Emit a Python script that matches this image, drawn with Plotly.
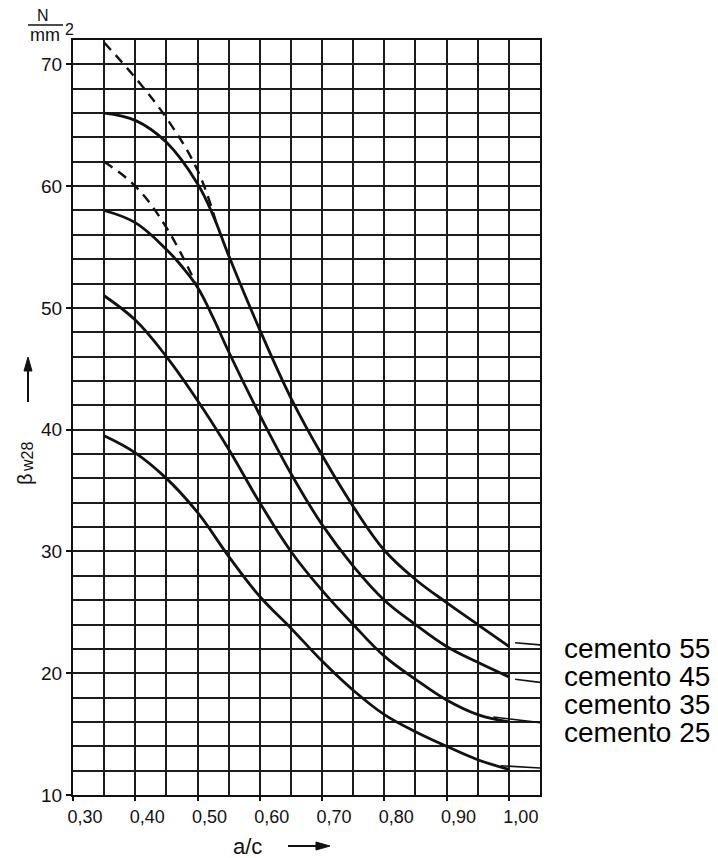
import plotly.graph_objects as go

# ---------------- data ----------------
wc = [0.35, 0.40, 0.45, 0.50, 0.55, 0.60, 0.65, 0.70, 0.75, 0.80, 0.85, 0.90, 0.95, 1.00]
wc55 = [0.35, 0.40, 0.45, 0.50, 0.525, 0.55, 0.60, 0.65, 0.70, 0.75, 0.80, 0.85, 0.90, 0.95, 1.00]
c55 = [66.0, 65.4, 63.6, 60.2, 57.6, 54.3, 48.2, 42.6, 37.9, 33.7, 30.1, 27.7, 25.8, 24.0, 22.2]
wc45 = [0.35, 0.40, 0.45, 0.475, 0.50, 0.525, 0.55, 0.60, 0.65, 0.70, 0.75, 0.80, 0.85, 0.90, 0.95, 1.00]
c45 = [58.0, 57.0, 54.8, 53.4, 51.7, 49.2, 46.4, 41.2, 36.4, 32.2, 28.8, 26.0, 24.0, 22.2, 20.9, 19.7]
c35 = [51.0, 49.0, 46.0, 42.4, 38.4, 34.0, 30.0, 26.8, 24.0, 21.4, 19.5, 17.8, 16.6, 16.0]
c25 = [39.5, 38.1, 36.0, 33.2, 29.6, 26.3, 23.7, 21.0, 18.6, 16.6, 15.2, 14.0, 12.9, 12.1]

# dashed extrapolations
wc55_dash = [0.35, 0.40, 0.45, 0.50, 0.53]
c55_dash = [71.8, 68.9, 65.6, 61.3, 57.0]
wc45_dash = [0.35, 0.40, 0.45, 0.50]
c45_dash = [62.0, 60.0, 56.6, 51.7]

# leader lines towards the labels
lead55_x = [1.01, 1.057]
lead55_y = [22.5, 22.3]
lead45_x = [1.01, 1.057]
lead45_y = [19.5, 19.2]
lead35_x = [0.975, 1.057]
lead35_y = [16.4, 15.9]
lead25_x = [0.987, 1.057]
lead25_y = [12.4, 12.2]

series_labels = ["cemento 55", "cemento 45", "cemento 35", "cemento 25"]

x_ticks = [0.30, 0.40, 0.50, 0.60, 0.70, 0.80, 0.90, 1.00]
x_ticktext = ["0,30", "0,40", "0,50", "0,60", "0,70", "0,80", "0,90", "1,00"]
y_ticks = [10, 20, 30, 40, 50, 60, 70]
y_ticktext = ["10", "20", "30", "40", "50", "60", "70"]

# ---------------- layout geometry ----------------
W, H = 718, 858
ML, MR, MT, MB = 73, 178, 40, 63
PW, PH = W - ML - MR, H - MT - MB


def px(xp):
    return (xp - ML) / PW


def py(yp):
    return (H - MB - yp) / PH


INK = "#111111"
GRID = "#1c1c1c"
FONT = "Liberation Sans"

fig = go.Figure()

line_solid = dict(color=INK, width=2.8, shape="spline", smoothing=1.1)
line_dash = dict(color=INK, width=2.4, shape="spline", smoothing=1.1, dash="10px,7px")

fig.add_trace(go.Scatter(x=wc55_dash, y=c55_dash, mode="lines", line=line_dash))
fig.add_trace(go.Scatter(x=wc45_dash, y=c45_dash, mode="lines", line=line_dash))
fig.add_trace(go.Scatter(x=wc55, y=c55, mode="lines", line=line_solid))
fig.add_trace(go.Scatter(x=wc45, y=c45, mode="lines", line=line_solid))
fig.add_trace(go.Scatter(x=wc, y=c35, mode="lines", line=line_solid))
fig.add_trace(go.Scatter(x=wc, y=c25, mode="lines", line=line_solid))

for lx, ly in [(lead55_x, lead55_y), (lead45_x, lead45_y), (lead35_x, lead35_y), (lead25_x, lead25_y)]:
    fig.add_trace(go.Scatter(x=lx, y=ly, mode="lines", line=dict(color=INK, width=1.6),
                             cliponaxis=False))

annotations = []
# series labels
label_y = [648, 676, 704, 732]
for t, yp in zip(series_labels, label_y):
    annotations.append(dict(text=t, xref="paper", yref="paper", x=px(562), y=py(yp),
                            xanchor="left", yanchor="middle", showarrow=False,
                            font=dict(family=FONT, size=28, color="#000")))

# y title (beta with subscript w28), rotated
annotations.append(dict(text="β", xref="paper", yref="paper",
                        x=px(25), y=py(479), textangle=-90, showarrow=False,
                        xanchor="center", yanchor="middle",
                        font=dict(family=FONT, size=20, color=INK)))
annotations.append(dict(text="w28", xref="paper", yref="paper",
                        x=px(27), y=py(457), textangle=-90, showarrow=False,
                        xanchor="center", yanchor="middle",
                        font=dict(family=FONT, size=16, color=INK)))
# x title
annotations.append(dict(text="a/c", xref="paper", yref="paper", x=px(247), y=py(846),
                        showarrow=False, xanchor="center", yanchor="middle",
                        font=dict(family=FONT, size=22, color=INK)))
# unit N/mm2
annotations.append(dict(text="N", xref="paper", yref="paper", x=px(43), y=py(15),
                        showarrow=False, xanchor="center", yanchor="middle",
                        font=dict(family=FONT, size=16, color=INK)))
annotations.append(dict(text="mm", xref="paper", yref="paper", x=px(45), y=py(35),
                        showarrow=False, xanchor="center", yanchor="middle",
                        font=dict(family=FONT, size=18, color=INK)))
annotations.append(dict(text="2", xref="paper", yref="paper", x=px(69), y=py(30),
                        showarrow=False, xanchor="center", yanchor="middle",
                        font=dict(family=FONT, size=16, color=INK)))


def tri_path(pts):
    return "M " + " L ".join(f"{px(a):.5f},{py(b):.5f}" for a, b in pts) + " Z"


shapes = [
    # fraction bar of the unit
    dict(type="line", xref="paper", yref="paper", x0=px(28), x1=px(63),
         y0=py(25), y1=py(25), line=dict(color=INK, width=1.5)),
    # vertical arrow next to the y title
    dict(type="line", xref="paper", yref="paper", x0=px(28), x1=px(28),
         y0=py(402), y1=py(368), line=dict(color=INK, width=2)),
    dict(type="path", xref="paper", yref="paper",
         path=tri_path([(24, 371), (28, 357), (32, 371)]),
         fillcolor=INK, line=dict(color=INK, width=1)),
    # horizontal arrow next to the x title
    dict(type="line", xref="paper", yref="paper", x0=px(288), x1=px(318),
         y0=py(846), y1=py(846), line=dict(color=INK, width=2)),
    dict(type="path", xref="paper", yref="paper",
         path=tri_path([(316, 842), (330, 846), (316, 850)]),
         fillcolor=INK, line=dict(color=INK, width=1)),
]

fig.update_layout(
    width=W, height=H, autosize=False,
    margin=dict(l=ML, r=MR, t=MT, b=MB, pad=0),
    paper_bgcolor="white", plot_bgcolor="white",
    showlegend=False,
    annotations=annotations,
    shapes=shapes,
    xaxis=dict(range=[0.30, 1.05], tickmode="array", tickvals=x_ticks, ticktext=x_ticktext,
               ticks="outside", ticklen=4, tickwidth=1.5, tickcolor=INK,
               showgrid=True, gridcolor=GRID, gridwidth=1.6,
               minor=dict(tickmode="linear", tick0=0.30, dtick=0.05, showgrid=True,
                          gridcolor=GRID, gridwidth=1.6, ticks=""),
               showline=True, linecolor=INK, linewidth=2, mirror=True,
               zeroline=False, ticklabelshift=12,
               tickfont=dict(family=FONT, size=18, color=INK)),
    yaxis=dict(range=[10, 72], tickmode="array", tickvals=y_ticks, ticktext=y_ticktext,
               ticks="outside", ticklen=5, tickwidth=1.5, tickcolor=INK,
               showgrid=True, gridcolor=GRID, gridwidth=1.6,
               minor=dict(tickmode="linear", tick0=10, dtick=2, showgrid=True,
                          gridcolor=GRID, gridwidth=1.6, ticks=""),
               showline=True, linecolor=INK, linewidth=2, mirror=True,
               zeroline=False,
               tickfont=dict(family=FONT, size=19, color=INK)),
)

fig.write_html("out.html")
